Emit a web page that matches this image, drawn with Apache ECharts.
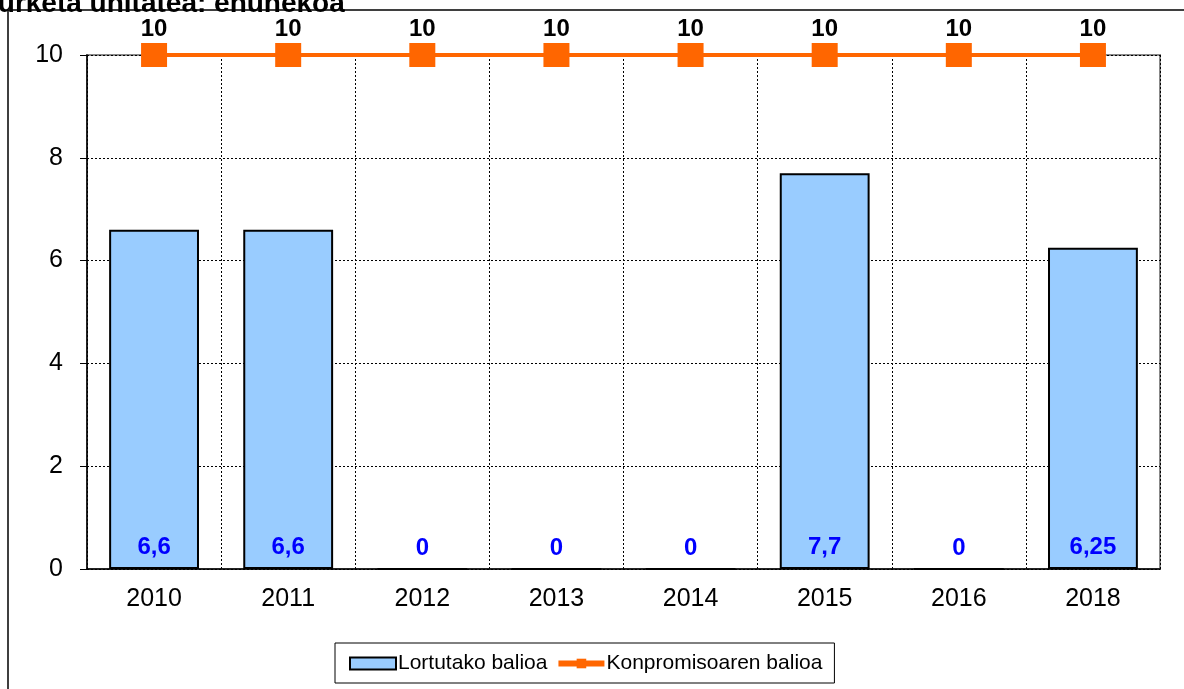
<!DOCTYPE html>
<html>
<head>
<meta charset="utf-8">
<script src="https://cdn.jsdelivr.net/npm/echarts@6/dist/echarts.min.js"></script>
<style>
  html, body { margin: 0; padding: 0; background: #fff; }
  #myChart { width: 1184px; height: 689px; }
</style>
</head>
<body>
<div id="myChart"></div>
<script>
// data
var years = ['2010', '2011', '2012', '2013', '2014', '2015', '2016', '2018'];
var lortutakoa = [6.6, 6.6, 0, 0, 0, 7.7, 0, 6.25];
var konpromisoa = [10, 10, 10, 10, 10, 10, 10, 10];
var yTicks = [0, 2, 4, 6, 8, 10];

var fontFam = '"Liberation Sans", Arial, sans-serif';
var comma = function (v) { return String(v).replace('.', ','); };

var myChart = echarts.init(document.getElementById('myChart'));
myChart.setOption({
  animation: false,
  textStyle: { fontFamily: fontFam, color: '#000' },
  graphic: [
    {
      type: 'rect',
      shape: { x: 8, y: 10, width: 1200, height: 700 },
      style: { fill: 'none', stroke: '#000', lineWidth: 1.5 },
      z: 0
    },
    {
      type: 'text',
      x: -38, y: -10,
      style: {
        text: 'Neurketa unitatea: ehunekoa',
        font: 'bold 28px ' + fontFam,
        fill: '#000'
      }
    }
  ],
  grid: {
    left: 87, right: 24, top: 55, bottom: 120,
    show: true, borderColor: '#888', borderWidth: 2, backgroundColor: 'transparent'
  },
  legend: {
    bottom: 6, left: 335,
    itemGap: 8,
    itemWidth: 46, itemHeight: 12,
    borderColor: '#000', borderWidth: 1,
    padding: [10, 12, 9, 14],
    lineStyle: { width: 6 },
    textStyle: { fontSize: 21, fontFamily: fontFam, color: '#000', padding: [0, 0, 0, -3] },
    data: [
      { name: 'Lortutako balioa', icon: 'rect' },
      { name: 'Konpromisoaren balioa' }
    ]
  },
  xAxis: {
    type: 'category',
    data: years,
    axisLine: { lineStyle: { color: '#000', width: 1.5 } },
    axisTick: { length: 9, lineStyle: { color: '#000' } },
    axisLabel: { fontSize: 25, color: '#000', margin: 18 },
    splitLine: { show: true, lineStyle: { color: '#000', type: [2, 2], width: 1 } }
  },
  yAxis: {
    type: 'value',
    min: yTicks[0], max: yTicks[yTicks.length - 1], interval: 2,
    axisLine: { show: true, lineStyle: { color: '#000', width: 1.5 } },
    axisTick: { show: true, length: 7, lineStyle: { color: '#000' } },
    axisLabel: { fontSize: 25, color: '#000', margin: 24 },
    splitLine: { show: true, lineStyle: { color: '#000', type: [2, 2], width: 1 } }
  },
  series: [
    {
      name: 'Lortutako balioa',
      type: 'bar',
      data: lortutakoa,
      barCategoryGap: '33%',
      itemStyle: { color: '#99CCFF', borderColor: '#000', borderWidth: 2 },
      label: {
        show: true,
        position: 'insideBottom',
        distance: 10,
        formatter: function (p) { return comma(p.value); },
        color: '#0000FF',
        fontWeight: 'bold',
        fontSize: 24
      }
    },
    {
      name: 'Konpromisoaren balioa',
      type: 'line',
      data: konpromisoa,
      symbol: 'rect',
      symbolSize: [26, 24],
      itemStyle: { color: '#FF6600' },
      lineStyle: { color: '#FF6600', width: 4 },
      label: {
        show: true,
        position: 'top',
        distance: 2,
        color: '#000',
        fontWeight: 'bold',
        fontSize: 24
      },
      z: 5
    }
  ]
});
</script>
</body>
</html>
